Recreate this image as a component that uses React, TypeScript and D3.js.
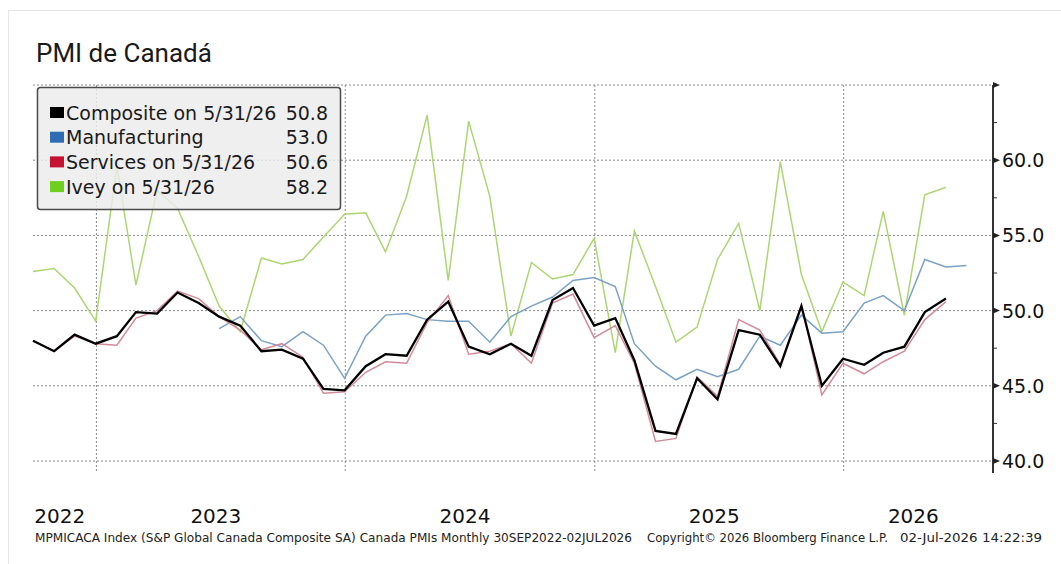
import React from "react";
import * as d3 from "d3";

const months: string[] = [
  "2022-09", "2022-10", "2022-11", "2022-12",
  "2023-01", "2023-02", "2023-03", "2023-04", "2023-05", "2023-06", "2023-07", "2023-08", "2023-09", "2023-10", "2023-11", "2023-12",
  "2024-01", "2024-02", "2024-03", "2024-04", "2024-05", "2024-06", "2024-07", "2024-08", "2024-09", "2024-10", "2024-11", "2024-12",
  "2025-01", "2025-02", "2025-03", "2025-04", "2025-05", "2025-06", "2025-07", "2025-08", "2025-09", "2025-10", "2025-11", "2025-12",
  "2026-01", "2026-02", "2026-03", "2026-04", "2026-05", "2026-06",
];

const composite: (number | null)[] = [
  48.0, 47.3, 48.4, 47.8,
  48.3, 49.9, 49.8, 51.2, 50.5, 49.6, 49.0, 47.3, 47.4, 46.8, 44.8, 44.7,
  46.3, 47.1, 47.0, 49.4, 50.6, 47.6, 47.1, 47.8, 47.0, 50.7, 51.5, 49.0,
  49.5, 46.7, 42.0, 41.8, 45.5, 44.1, 48.7, 48.4, 46.3, 50.3, 45.0, 46.8,
  46.4, 47.2, 47.6, 49.9, 50.8, null,
];

const manufacturing: (number | null)[] = [
  null, null, null, null,
  null, null, null, null, null, 48.8, 49.6, 48.0, 47.6, 48.6, 47.7, 45.5,
  48.3, 49.7, 49.8, 49.4, 49.3, 49.3, 47.9, 49.6, 50.3, 50.9, 52.0, 52.2,
  51.6, 47.8, 46.3, 45.4, 46.1, 45.6, 46.1, 48.3, 47.7, 49.7, 48.5, 48.6,
  50.5, 51.0, 50.0, 53.4, 52.9, 53.0,
];

const services: (number | null)[] = [
  48.0, 47.3, 48.3, 47.8,
  47.7, 49.5, 50.0, 51.3, 50.8, 49.6, 48.7, 47.4, 47.8, 46.9, 44.5, 44.6,
  45.9, 46.6, 46.5, 49.2, 51.0, 47.1, 47.3, 47.8, 46.5, 50.5, 51.1, 48.2,
  49.0, 46.5, 41.3, 41.5, 45.6, 44.3, 49.4, 48.7, 46.4, 50.4, 44.4, 46.5,
  45.8, 46.6, 47.3, 49.4, 50.6, null,
];

const ivey: (number | null)[] = [
  52.6, 52.8, 51.5, 49.3,
  59.6, 51.7, 58.0, 56.8, 53.6, 50.3, 48.6, 53.5, 53.1, 53.4, 54.9, 56.4,
  56.5, 53.9, 57.6, 63.0, 52.0, 62.6, 57.6, 48.3, 53.2, 52.1, 52.4, 54.8,
  47.2, 55.3, 51.6, 47.9, 48.9, 53.4, 55.8, 50.0, 59.9, 52.4, 48.6, 51.9,
  51.0, 56.6, 49.7, 57.7, 58.2, null,
];

const legendNames = ["Composite on 5/31/26", "Manufacturing", "Services on 5/31/26", "Ivey on 5/31/26"];
const legendValues = ["50.8", "53.0", "50.6", "58.2"];
const legendColors = ["#000000", "#2e6db4", "#c4122f", "#6fcf1f"];
const lineColors = ["#000000", "#7aa1c6", "#d48a9b", "#acd672"];

const yTicks = [40, 45, 50, 55, 60, 65];
const yMinor = [42.5, 47.5, 52.5, 57.5, 62.5];
const yLabels = [40, 45, 50, 55, 60];
const years = [2022, 2023, 2024, 2025, 2026];

const footerLeft = "MPMICACA Index (S&P Global Canada Composite SA) Canada PMIs Monthly 30SEP2022-02JUL2026";
const footerMid = "Copyright\u00A9 2026 Bloomberg Finance L.P.";
const footerRight = "02-Jul-2026 14:22:39";

const monthEnd = (m: string) => {
  const [y, mo] = m.split("-").map(Number);
  return new Date(y, mo, 0);
};

export default function App() {
  const W = 1061;
  const H = 564;
  const left = 33;
  const right = 993;
  const top = 85;
  const bottom = 473;

  const x = d3
    .scaleTime()
    .domain([new Date(2022, 8, 30), new Date(2026, 7, 8)])
    .range([left, right]);
  const y = d3.scaleLinear().domain([40, 65]).range([461, 85]);

  const dates = months.map(monthEnd);

  const mkLine = (vals: (number | null)[]) =>
    d3
      .line<number | null>()
      .defined((d) => d !== null)
      .x((_, i) => x(dates[i]))
      .y((d) => y(d as number))(vals) || "";

  const series = [
    { vals: ivey, color: lineColors[3], w: 1.5 },
    { vals: manufacturing, color: lineColors[1], w: 1.5 },
    { vals: services, color: lineColors[2], w: 1.5 },
    { vals: composite, color: lineColors[0], w: 2.3 },
  ];

  const yearGrid = years.slice(1).map((yr) => new Date(yr, 0, 1));
  const dom = x.domain();
  const yearLabelPos = years.map((yr) => {
    const s = Math.max(+new Date(yr, 0, 1), +dom[0]);
    const e = Math.min(+new Date(yr + 1, 0, 1), +dom[1]);
    return (x(new Date(s)) + x(new Date(e))) / 2 - 5;
  });

  const bbFont = "'DejaVu Sans', Verdana, sans-serif";

  return (
    <svg
      width={W}
      height={H}
      style={{ position: "absolute", left: 0, top: 0, background: "#fff" }}
    >
      <rect x={0} y={0} width={W} height={H} fill="#ffffff" />
      <rect x={8.5} y={10.5} width={W} height={H} fill="none" stroke="#e6e6e6" strokeWidth={1} />
      <text x={36} y={62} fontFamily="Roboto, sans-serif" fontSize={26} fill="#1a1a1a">
        PMI de Canadá
      </text>

      {yTicks.map((t) => (
        <line
          key={"h" + t}
          x1={left}
          x2={right}
          y1={y(t)}
          y2={y(t)}
          stroke="#8a8a8a"
          strokeWidth={1}
          strokeDasharray="2,2"
        />
      ))}
      {yearGrid.map((d, i) => (
        <line
          key={"v" + i}
          x1={x(d)}
          x2={x(d)}
          y1={top}
          y2={bottom}
          stroke="#8a8a8a"
          strokeWidth={1}
          strokeDasharray="2,2"
        />
      ))}

      {series.map((s, i) => (
        <path
          key={"s" + i}
          d={mkLine(s.vals)}
          fill="none"
          stroke={s.color}
          strokeWidth={s.w}
          strokeLinejoin="miter"
        />
      ))}

      <line x1={right} x2={right} y1={top} y2={bottom} stroke="#333" strokeWidth={2} />
      {yTicks.map((t) => (
        <path
          key={"mt" + t}
          d={`M${right},${y(t) - 3} L${right + 7},${y(t)} L${right},${y(t) + 3} Z`}
          fill="#222"
        />
      ))}
      {yMinor.map((t) => (
        <line key={"mn" + t} x1={right} x2={right + 4} y1={y(t)} y2={y(t)} stroke="#333" strokeWidth={1} />
      ))}
      {yLabels.map((t) => (
        <text
          key={"yl" + t}
          x={1002}
          y={y(t) + 7}
          fontFamily={bbFont}
          fontSize={19}
          fill="#111"
        >
          {t.toFixed(1)}
        </text>
      ))}

      {years.map((yr, i) => (
        <text
          key={"yr" + yr}
          x={yearLabelPos[i]}
          y={523}
          textAnchor="middle"
          fontFamily={bbFont}
          fontSize={20}
          fill="#111"
        >
          {yr}
        </text>
      ))}

      <text x={35} y={542} fontFamily={bbFont} fontSize={11.5} fill="#222" textLength={597} lengthAdjust="spacingAndGlyphs">
        {footerLeft}
      </text>
      <text x={647} y={542} fontFamily={bbFont} fontSize={11.5} fill="#222" textLength={241} lengthAdjust="spacingAndGlyphs">
        {footerMid}
      </text>
      <text x={900} y={542} fontFamily={bbFont} fontSize={11.5} fill="#222" textLength={142} lengthAdjust="spacingAndGlyphs">
        {footerRight}
      </text>

      <rect
        x={37.5}
        y={87.5}
        width={303}
        height={122}
        rx={3}
        fill="#ececec"
        fillOpacity={0.82}
        stroke="#4a4a4a"
        strokeWidth={1.5}
      />
      {legendNames.map((n, i) => (
        <g key={"lg" + i}>
          <rect x={50} y={107 + i * 24.7} width={14} height={11} fill={legendColors[i]} />
          <text x={66} y={119.5 + i * 24.7} fontFamily={bbFont} fontSize={19} fill="#1a1a1a">
            {n}
          </text>
          <text x={328} y={119.5 + i * 24.7} textAnchor="end" fontFamily={bbFont} fontSize={19} fill="#1a1a1a">
            {legendValues[i]}
          </text>
        </g>
      ))}
    </svg>
  );
}
